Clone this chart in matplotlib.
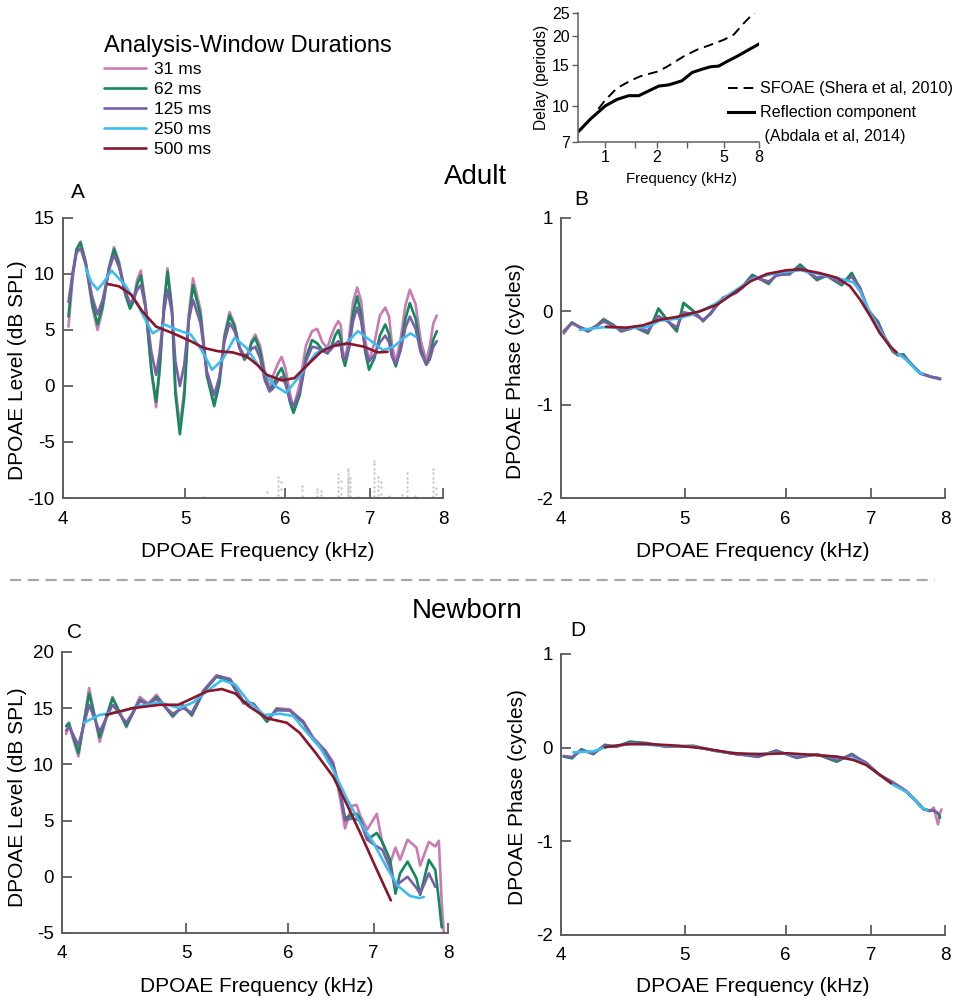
import matplotlib

matplotlib.use("Agg")
import matplotlib.pyplot as plt
from matplotlib.lines import Line2D
from matplotlib.ticker import NullLocator, FixedLocator, NullFormatter

plt.rcParams["font.family"] = ["Liberation Sans", "DejaVu Sans"]
plt.rcParams["axes.unicode_minus"] = False

WINDOWS = ["31 ms", "62 ms", "125 ms", "250 ms", "500 ms"]
COLORS = ["#cc7ab6", "#138a5c", "#7b5ea8", "#3dbdee", "#8b1529"]
FREQ_TICKS = [4, 5, 6, 7, 8]

# ---- Panel A: adult level (dB SPL) ----
A_F = [4.04, 4.07, 4.10, 4.13, 4.17, 4.22, 4.26, 4.30, 4.35, 4.39, 4.43, 4.48,
       4.52, 4.55, 4.58, 4.61, 4.65, 4.70, 4.74, 4.77, 4.81, 4.84, 4.88, 4.91,
       4.95, 4.99, 5.03, 5.07, 5.14, 5.20, 5.27, 5.32, 5.37, 5.42, 5.47, 5.52,
       5.57, 5.61, 5.64, 5.68, 5.73, 5.78, 5.83, 5.87, 5.92, 5.96, 6.00, 6.05,
       6.09, 6.16, 6.23, 6.30, 6.36, 6.42, 6.48, 6.52, 6.57, 6.61, 6.64, 6.66,
       6.69, 6.74, 6.79, 6.84, 6.89, 6.94, 6.99, 7.06, 7.13, 7.20, 7.25, 7.29,
       7.34, 7.40, 7.47, 7.53, 7.61, 7.68, 7.76, 7.81, 7.86, 7.91]
A31_V = [5.3, 9.5, 12.2, 12.9, 10.9, 7.0, 5.0, 6.9, 10.6, 12.4, 11.1, 8.4,
         7.0, 7.8, 9.5, 10.3, 7.3, 1.2, -1.9, 1.2, 7.4, 10.5, 7.0, -0.1,
         -3.6, -0.3, 6.3, 9.6, 6.8, 1.2, -1.6, 0.5, 4.6, 6.6, 5.5, 3.4,
         2.3, 2.9, 4.0, 4.6, 3.6, 1.3, -0.2, 1.0, 2.0, 2.6, 1.6, -0.6,
         -2.0, 0.2, 3.6, 4.9, 5.1, 3.9, 3.4, 4.4, 5.3, 5.8, 5.4, 3.2,
         2.4, 4.3, 7.5, 8.8, 7.6, 4.2, 2.2, 3.9, 6.3, 7.0, 6.2, 3.6,
         2.1, 4.0, 7.2, 8.6, 7.3, 4.1, 2.2, 3.6, 5.6, 6.3]
A62_V = [6.2, 10.0, 12.2, 12.8, 11.0, 7.3, 5.5, 7.2, 10.5, 12.2, 10.9, 8.2,
         6.9, 7.6, 9.1, 9.85, 7.0, 1.4, -1.4, 1.5, 7.3, 10.2, 6.6, -0.7,
         -4.3, -1.0, 5.7, 9.0, 6.3, 0.9, -1.8, 0.2, 4.3, 6.3, 5.3, 3.4,
         2.4, 2.9, 3.8, 4.3, 3.1, 0.8, -0.4, 0.1, 1.1, 1.6, 0.6, -1.4,
         -2.4, -0.8, 2.5, 4.1, 3.8, 3.2, 2.9, 3.4, 4.5, 5.0, 4.2, 2.6,
         1.8, 3.4, 6.5, 8.0, 6.4, 3.1, 1.45, 2.5, 4.5, 5.5, 4.6, 2.7,
         1.75, 3.2, 6.0, 7.4, 6.0, 3.3, 1.9, 2.65, 4.15, 4.9]
A125_V = [7.5, 10.0, 11.9, 12.3, 10.8, 7.9, 6.4, 7.7, 10.4, 11.7, 10.6, 8.5,
          7.4, 7.8, 8.6, 9.0, 7.0, 3.0, 1.0, 2.9, 6.7, 8.6, 6.5, 2.2,
          0.0, 1.9, 5.8, 7.7, 5.6, 1.3, -0.8, 0.8, 4.0, 5.6, 4.9, 3.4,
          2.7, 2.9, 3.3, 3.5, 2.5, 0.5, -0.5, -0.2, 0.5, 0.8, 0.2, -1.2,
          -1.8, -0.5, 2.2, 3.5, 3.4, 3.1, 3.0, 3.25, 3.75, 4.0, 3.6, 2.7,
          2.3, 3.5, 5.8, 7.0, 5.8, 3.4, 2.2, 2.8, 3.9, 4.5, 3.9, 2.6,
          2.0, 3.1, 5.2, 6.2, 5.1, 3.0, 1.9, 2.4, 3.5, 4.0]
A250_F = [4.17, 4.21, 4.26, 4.31, 4.37, 4.48, 4.59, 4.71, 4.76, 4.81, 4.93, 5.05,
          5.15, 5.25, 5.35, 5.47, 5.59, 5.73, 5.89, 6.01, 6.16, 6.34, 6.49, 6.69,
          6.85, 7.00, 7.17, 7.31, 7.45, 7.54, 7.61]
A250_V = [10.5, 9.3, 8.6, 9.3, 10.3, 9.0, 7.1, 4.7, 5.0, 5.5, 5.0, 4.6,
          3.2, 1.45, 2.35, 4.3, 3.4, 1.6, 0.0, -0.6, 0.9, 2.9, 3.5, 3.7,
          4.9, 4.1, 3.2, 3.5, 4.3, 4.7, 4.4]
A500_F = [4.34, 4.43, 4.53, 4.62, 4.74, 4.89, 5.05, 5.17, 5.31, 5.45, 5.59, 5.70,
          5.80, 5.96, 6.10, 6.23, 6.41, 6.56, 6.72, 6.93, 7.10, 7.23]
A500_V = [9.1, 8.9, 8.15, 6.7, 5.3, 4.7, 4.0, 3.4, 3.1, 3.0, 2.65, 1.9,
          1.0, 0.5, 0.7, 1.75, 3.1, 3.6, 3.8, 3.5, 3.0, 3.05]
# noise-floor samples near the bottom of panel A (frequency -> levels)
NOISE_A = {
    5.17: [-9.9], 5.80: [-9.5],
    5.92: [-9.7, -9.3, -8.9, -8.5, -8.1], 5.95: [-9.9, -9.2, -8.6],
    6.18: [-9.8, -9.3, -8.9], 6.36: [-9.8, -9.5, -9.2], 6.40: [-9.7, -9.4],
    6.61: [-9.8, -9.4, -9.0, -8.6, -8.2, -7.9], 6.64: [-9.6, -9.1, -8.5],
    6.73: [-9.9, -9.7, -9.5, -9.3, -9.1, -8.9, -8.7, -8.5, -8.3, -8.1, -7.9, -7.6, -7.4],
    6.75: [-9.8, -9.4, -9.0, -8.6, -8.2], 6.85: [-9.9],
    7.06: [-9.8, -9.4, -9.0, -8.6, -8.2, -7.8, -7.4, -7.0, -6.7],
    7.10: [-9.7, -9.3, -8.9, -8.5, -8.1], 7.14: [-9.6, -9.0, -8.6],
    7.25: [-9.8], 7.42: [-9.7], 7.49: [-9.8, -9.4, -9.0, -8.6, -8.2, -7.8],
    7.60: [-9.8], 7.86: [-9.8, -9.4, -9.0, -8.6, -8.2, -7.8, -7.4], 7.90: [-9.6, -9.1],
}

# ---- Panel B: adult phase (cycles) ----
B_F = [4.02, 4.08, 4.14, 4.20, 4.26, 4.32, 4.39, 4.46, 4.52, 4.57, 4.63, 4.68,
       4.72, 4.77, 4.85, 4.93, 4.99, 5.08, 5.17, 5.24, 5.30, 5.36, 5.49, 5.55,
       5.65, 5.82, 5.90, 6.04, 6.16, 6.35, 6.46, 6.64, 6.76, 6.86, 6.96, 7.09,
       7.18, 7.28, 7.35, 7.42, 7.49, 7.57, 7.65, 7.79, 7.93]
B31_V = [-0.24, -0.12, -0.18, -0.22, -0.16, -0.08, -0.14, -0.22, -0.19, -0.17, -0.21, -0.24,
         -0.12, 0.03, -0.10, -0.22, 0.09, 0.01, -0.11, -0.02, 0.07, 0.15, 0.20, 0.27,
         0.39, 0.29, 0.40, 0.39, 0.50, 0.33, 0.39, 0.28, 0.41, 0.24, 0.01, -0.12,
         -0.29, -0.43, -0.47, -0.46, -0.54, -0.60, -0.67, -0.70, -0.73]
B62_V = [-0.22, -0.12, -0.17, -0.21, -0.16, -0.09, -0.14, -0.21, -0.19, -0.165, -0.20, -0.23,
         -0.12, 0.03, -0.10, -0.21, 0.09, 0.0, -0.10, -0.02, 0.07, 0.14, 0.21, 0.26,
         0.39, 0.30, 0.39, 0.40, 0.50, 0.34, 0.38, 0.28, 0.41, 0.25, 0.01, -0.11,
         -0.29, -0.43, -0.47, -0.46, -0.53, -0.60, -0.66, -0.70, -0.72]
B125_V = [-0.21, -0.13, -0.17, -0.20, -0.16, -0.11, -0.15, -0.20, -0.19, -0.17, -0.19, -0.21,
          -0.14, -0.05, -0.11, -0.17, -0.01, -0.03, -0.09, -0.03, 0.06, 0.14, 0.20, 0.25,
          0.37, 0.32, 0.38, 0.41, 0.47, 0.36, 0.38, 0.30, 0.37, 0.26, 0.03, -0.13,
          -0.28, -0.42, -0.46, -0.47, -0.54, -0.60, -0.66, -0.70, -0.72]
B250_F = [4.14, 4.32, 4.50, 4.67, 4.78, 4.93, 5.08, 5.27, 5.46, 5.66, 5.90, 6.16,
          6.42, 6.66, 6.78, 6.86, 6.99, 7.11, 7.28, 7.46, 7.62, 7.69]
B250_V = [-0.20, -0.17, -0.18, -0.17, -0.10, -0.08, -0.03, 0.07, 0.21, 0.35, 0.41, 0.44,
          0.39, 0.34, 0.31, 0.22, -0.02, -0.20, -0.41, -0.52, -0.65, -0.67]
B500_F = [4.34, 4.50, 4.64, 4.78, 4.93, 5.14, 5.30, 5.46, 5.63, 5.80, 6.01, 6.16,
          6.38, 6.58, 6.74, 6.86, 6.99, 7.11, 7.24, 7.33]
B500_V = [-0.165, -0.175, -0.15, -0.09, -0.06, 0.0, 0.07, 0.19, 0.32, 0.40, 0.44, 0.45,
          0.41, 0.36, 0.27, 0.13, -0.05, -0.23, -0.37, -0.44]

# ---- Panel C: newborn level (dB SPL) ----
C_F = [4.03, 4.05, 4.12, 4.20, 4.28, 4.38, 4.49, 4.60, 4.67, 4.74, 4.88, 4.97,
       5.05, 5.16, 5.28, 5.41, 5.54, 5.64, 5.78, 5.88, 6.02, 6.17, 6.28, 6.42,
       6.51, 6.59, 6.65, 6.73, 6.79, 6.83, 6.92, 7.04, 7.11, 7.21, 7.28, 7.34,
       7.44, 7.56, 7.61, 7.73, 7.82, 7.87, 7.91, 7.94]
nan = float("nan")
C31_V = [12.7, 13.5, 10.7, 16.8, 12.0, 16.0, 13.3, 16.0, 15.4, 16.2, 14.2, 15.3,
         14.3, 16.6, 17.9, 17.5, 15.4, 15.4, 13.8, 15.0, 14.9, 13.8, 12.4, 11.2,
         10.2, 7.0, 4.3, 6.3, 6.4, 5.5, 4.2, 5.6, 3.0, 1.2, 2.6, 1.5,
         3.3, 2.6, 1.0, 3.1, 2.7, 3.2, -2.3, -5.0]
C62_V = [13.4, 13.7, 11.0, 16.3, 12.4, 15.9, 13.4, 15.75, 15.3, 16.0, 14.3, 15.2,
         14.4, 16.5, 17.8, 17.4, 15.5, 15.3, 13.8, 14.9, 14.8, 13.7, 12.2, 11.0,
         9.8, 7.5, 5.2, 5.5, 5.6, 5.2, 3.3, 3.9, 3.1, 1.5, -1.5, 0.3,
         1.35, -0.15, -1.6, 1.5, 0.6, -2.1, -4.5, nan]
C125_V = [13.0, 13.4, 11.7, 15.3, 12.9, 15.3, 13.7, 15.6, 15.4, 15.8, 14.5, 15.0,
          14.6, 16.6, 17.9, 17.6, 15.6, 15.4, 14.0, 14.8, 14.8, 13.8, 12.3, 11.2,
          10.0, 7.8, 5.0, 5.2, 5.1, 5.0, 3.3, 2.7, 2.4, 0.8, -0.9, -0.5,
          0.0, -1.0, -1.5, 0.3, -0.9, nan, nan, nan]
C250_F = [4.16, 4.28, 4.45, 4.60, 4.77, 4.94, 5.06, 5.19, 5.33, 5.46, 5.59, 5.75,
          5.92, 6.06, 6.18, 6.35, 6.51, 6.68, 6.84, 7.00, 7.16, 7.31, 7.47, 7.60, 7.66]
C250_V = [13.7, 14.4, 14.7, 15.2, 15.5, 15.0, 15.5, 16.5, 17.5, 17.1, 15.6, 14.4,
          14.5, 14.3, 13.1, 11.6, 9.5, 6.8, 4.7, 3.0, 0.9, -0.8, -1.7, -1.9, -1.8]
C500_F = [4.33, 4.54, 4.77, 4.93, 5.06, 5.19, 5.33, 5.46, 5.59, 5.78, 5.99, 6.13,
          6.31, 6.51, 6.68, 6.84, 7.00, 7.12, 7.22]
C500_V = [14.4, 15.0, 15.3, 15.3, 15.9, 16.5, 16.7, 16.3, 15.2, 14.1, 13.7, 12.8,
          11.0, 8.9, 6.3, 3.8, 1.25, -0.6, -2.1]

# ---- Panel D: newborn phase (cycles) ----
D_F = [4.02, 4.08, 4.15, 4.24, 4.33, 4.42, 4.53, 4.67, 4.84, 5.08, 5.27, 5.49,
       5.71, 5.90, 6.12, 6.35, 6.58, 6.76, 6.94, 7.11, 7.29, 7.46, 7.58, 7.70,
       7.78, 7.84, 7.90, 7.93, 7.95]
D31_V = [-0.09, -0.11, -0.02, -0.07, 0.03, 0.01, 0.06, 0.05, 0.01, 0.02, -0.03, -0.07,
         -0.10, -0.03, -0.11, -0.07, -0.15, -0.07, -0.17, -0.29, -0.37, -0.46, -0.56, -0.66,
         -0.68, -0.64, -0.82, -0.70, -0.66]
D62_V = [-0.096, -0.114, -0.018, -0.068, 0.028, 0.011, 0.064, 0.046, 0.011, 0.018, -0.032, -0.068,
         -0.096, -0.032, -0.107, -0.071, -0.149, -0.068, -0.167, -0.292, -0.381, -0.470, -0.559, -0.658,
         -0.670, -0.673, -0.700, -0.747, nan]
D125_V = [-0.09, -0.10, -0.03, -0.06, 0.02, 0.01, 0.05, 0.04, 0.01, 0.01, -0.03, -0.07,
          -0.09, -0.04, -0.10, -0.07, -0.13, -0.08, -0.16, -0.29, -0.38, -0.47, -0.56, -0.66,
          -0.67, -0.67, -0.70, nan, nan]
D250_F = [4.09, 4.24, 4.35, 4.55, 4.84, 5.08, 5.33, 5.59, 5.87, 6.08, 6.35, 6.58,
          6.78, 6.94, 7.11, 7.29, 7.46, 7.58, 7.65, 7.75]
D250_V = [-0.05, -0.04, 0.01, 0.04, 0.02, 0.01, -0.04, -0.07, -0.06, -0.07, -0.08, -0.10,
          -0.12, -0.18, -0.29, -0.40, -0.47, -0.56, -0.63, -0.67]
D500_F = [4.33, 4.50, 4.67, 4.93, 5.17, 5.46, 5.73, 6.01, 6.31, 6.58, 6.78, 6.94, 7.11, 7.26]
D500_V = [0.004, 0.036, 0.039, 0.021, -0.007, -0.06, -0.071, -0.06, -0.078, -0.096,
          -0.132, -0.185, -0.29, -0.38]

# ---- Inset: delay (periods) vs frequency (kHz) ----
REFL_F = [0.70, 0.82, 1.0, 1.17, 1.37, 1.57, 1.76, 2.06, 2.36, 2.82, 3.24, 3.70,
          4.15, 4.64, 5.20, 5.95, 6.97, 8.0]
REFL_D = [7.8, 8.8, 10.0, 10.65, 11.05, 11.05, 11.5, 12.15, 12.3, 12.8, 13.9, 14.35,
          14.7, 14.8, 15.5, 16.3, 17.4, 18.4]
SFOAE_F = [0.91, 1.0, 1.17, 1.40, 1.61, 2.01, 2.30, 2.89, 3.46, 4.15, 4.98, 5.69, 6.52,
           7.45, 7.9]
SFOAE_D = [9.7, 10.6, 11.9, 12.8, 13.4, 14.0, 14.7, 16.3, 17.4, 18.25, 19.2, 20.2, 22.6,
           25.0, 25.8]

AXIS_GREY = "#5e5e5e"

# label positions (axes fractions): (ylabel x, ylabel y, xlabel x, xlabel y)
LABEL_POS = {
    "A": (-0.095, 0.457, 0.513, -0.158),
    "B": (-0.094, 0.455, 0.500, -0.158),
    "C": (-0.091, 0.484, 0.505, -0.155),
    "D": (-0.089, 0.491, 0.500, -0.151),
}

fig = plt.figure(figsize=(9.55, 9.99), dpi=100)
fig.patch.set_facecolor("white")


def style_panel(ax, ylim, yticks, ylabel, key):
    ax.set_xscale("log")
    ax.set_xlim(4, 8)
    ax.set_xticks(FREQ_TICKS, labels=[str(t) for t in FREQ_TICKS])
    ax.xaxis.set_minor_locator(NullLocator())
    ax.set_ylim(*ylim)
    ax.set_yticks(yticks)
    for side in ("top", "right"):
        ax.spines[side].set_visible(False)
    for side in ("left", "bottom"):
        ax.spines[side].set_color(AXIS_GREY)
        ax.spines[side].set_linewidth(1.4)
    ax.tick_params(direction="in", length=7, width=1.3, color=AXIS_GREY,
                   labelsize=13.5, pad=6)
    ax.tick_params(axis="x", pad=9)
    ax.set_xlabel("DPOAE Frequency (kHz)", fontsize=15)
    ax.set_ylabel(ylabel, fontsize=15)
    yx, yy, xx, xy = LABEL_POS[key]
    ax.yaxis.set_label_coords(yx, yy)
    ax.xaxis.set_label_coords(xx, xy)


def draw_series(ax, series):
    handles = []
    for (f, v), color, label in zip(series, COLORS, WINDOWS):
        (ln,) = ax.plot(f, v, color=color, lw=1.9, label=label,
                        solid_joinstyle="round", solid_capstyle="round")
        handles.append(ln)
    return handles


axA = fig.add_axes([0.0660, 0.5015, 0.3979, 0.2803])
axB = fig.add_axes([0.5874, 0.5015, 0.4021, 0.2803])
axC = fig.add_axes([0.0649, 0.0661, 0.4042, 0.2813])
axD = fig.add_axes([0.5874, 0.0641, 0.4021, 0.2813])

for f, levels in NOISE_A.items():
    axA.scatter([f] * len(levels), levels, s=3, color="#c8c8c8", lw=0, zorder=1)
handles = draw_series(axA, [(A_F, A31_V), (A_F, A62_V), (A_F, A125_V),
                            (A250_F, A250_V), (A500_F, A500_V)])
style_panel(axA, (-10, 15), [-10, -5, 0, 5, 10, 15], "DPOAE Level (dB SPL)", "A")

draw_series(axB, [(B_F, B31_V), (B_F, B62_V), (B_F, B125_V),
                  (B250_F, B250_V), (B500_F, B500_V)])
style_panel(axB, (-2, 1), [-2, -1, 0, 1], "DPOAE Phase (cycles)", "B")

draw_series(axC, [(C_F, C31_V), (C_F, C62_V), (C_F, C125_V),
                  (C250_F, C250_V), (C500_F, C500_V)])
style_panel(axC, (-5, 20), [-5, 0, 5, 10, 15, 20], "DPOAE Level (dB SPL)", "C")

draw_series(axD, [(D_F, D31_V), (D_F, D62_V), (D_F, D125_V),
                  (D250_F, D250_V), (D500_F, D500_V)])
style_panel(axD, (-2, 1), [-2, -1, 0, 1], "DPOAE Phase (cycles)", "D")

# panel letters and group titles
for x, y, letter in [(78, 192, "A"), (581, 199, "B"), (74, 633, "C"), (578, 631, "D")]:
    fig.text(x / 955, 1 - y / 999, letter, fontsize=15, ha="center", va="center")
fig.text(475 / 955, 1 - 177 / 999, "Adult", fontsize=20, ha="center", va="center")
fig.text(467 / 955, 1 - 611 / 999, "Newborn", fontsize=20, ha="center", va="center")
fig.add_artist(Line2D([10 / 955, 935 / 955], [1 - 580 / 999] * 2, color="#a8a8a8",
                      lw=1.6, ls=(0, (5, 3))))

fig.legend(handles=handles, labels=WINDOWS, title="Analysis-Window Durations",
           loc="upper left", bbox_to_anchor=(104 / 955, 1 - 35 / 999),
           frameon=False, fontsize=12.5, title_fontsize=17, handlelength=2.4,
           handletextpad=0.5, labelspacing=0.28, alignment="left",
           borderaxespad=0, borderpad=0)

# inset: delay comparison
axI = fig.add_axes([0.6052, 0.8579, 0.1895, 0.1291])
sf_line, = axI.plot(SFOAE_F, SFOAE_D, color="black", lw=1.4, ls=(0, (5, 3)))
refl_line, = axI.plot(REFL_F, REFL_D, color="black", lw=2.2)
axI.set_xscale("log")
axI.set_yscale("log")
axI.set_xlim(0.69, 8)
axI.set_ylim(7, 25)
axI.xaxis.set_major_locator(FixedLocator([1, 2, 5, 8]))
axI.xaxis.set_minor_locator(FixedLocator([1.5, 3]))
axI.xaxis.set_minor_formatter(NullFormatter())
axI.set_xticklabels(["1", "2", "5", "8"])
axI.yaxis.set_major_locator(FixedLocator([7, 10, 15, 20, 25]))
axI.yaxis.set_minor_locator(NullLocator())
axI.set_yticklabels(["7", "10", "15", "20", "25"])
for side in ("top", "right"):
    axI.spines[side].set_visible(False)
for side in ("left", "bottom"):
    axI.spines[side].set_color(AXIS_GREY)
    axI.spines[side].set_linewidth(1.1)
axI.tick_params(which="both", direction="out", length=4, width=1.0, color=AXIS_GREY,
                labelsize=11.5, pad=2)
axI.set_xlabel("Frequency (kHz)", fontsize=10.8, labelpad=2)
axI.xaxis.set_label_coords(0.57, -0.23)
axI.set_ylabel("Delay (periods)", fontsize=11.2, labelpad=2)
blank = Line2D([], [], color="none")
axI.legend([sf_line, refl_line, blank],
           ["SFOAE (Shera et al, 2010)", "Reflection component", " (Abdala et al, 2014)"],
           loc="upper left", bbox_to_anchor=(0.83, 0.47), frameon=False,
           fontsize=11.6, handlelength=1.6, handletextpad=0.4, labelspacing=0.55,
           borderaxespad=0, borderpad=0)

fig.savefig("out.png", dpi=100, facecolor="white")
